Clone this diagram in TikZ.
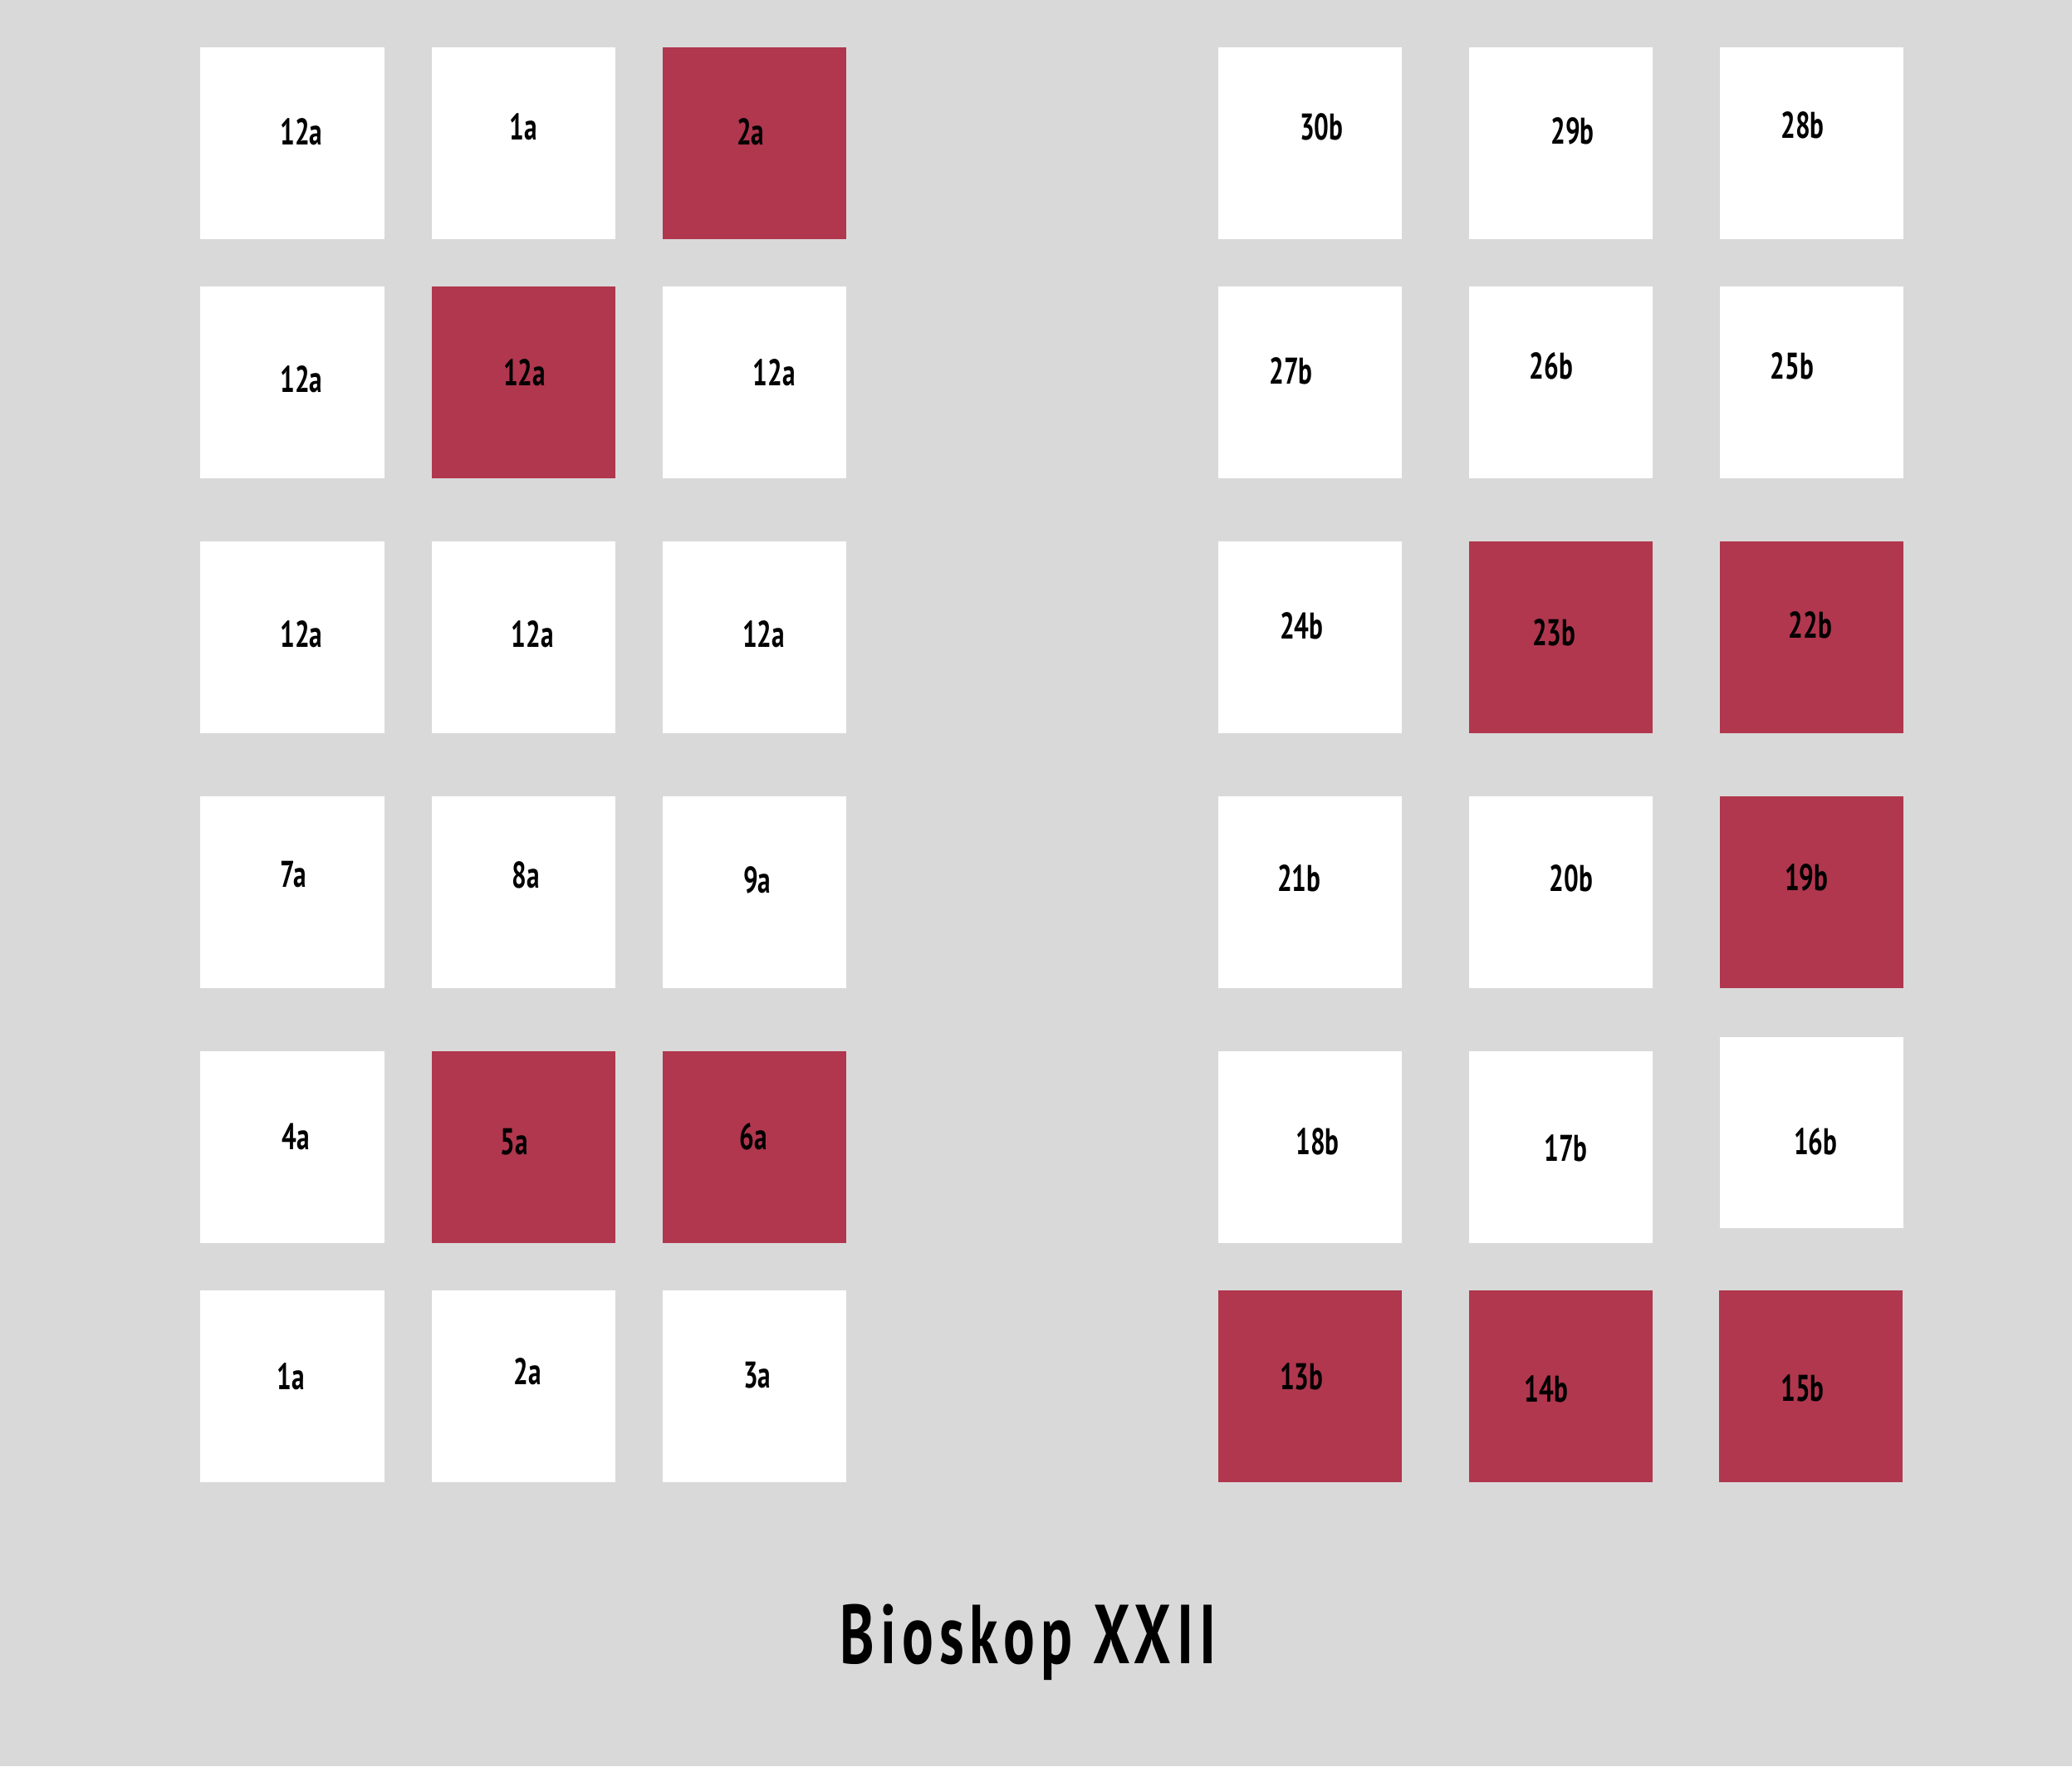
\documentclass[tikz,border=0pt]{standalone}
\usepackage{fontspec}
\newfontfamily\handfont[FakeStretch=0.7]{PT Sans}
\newfontfamily\titlefont[FakeStretch=0.7,LetterSpace=7]{PT Sans}
\definecolor{floorgray}{RGB}{217,217,217}
\definecolor{seatred}{RGB}{176,55,78}
\tikzset{
  seat/.style={fill=white, draw=none, anchor=north west, inner sep=0pt,
    minimum width=13.9mm, minimum height=14.5mm},
  taken/.style={seat, fill=seatred},
  lbl/.style={font=\handfont\bfseries\fontsize{8}{8}\selectfont, inner sep=0pt},
}
\begin{document}
\begin{tikzpicture}[x=0.1mm, y=-0.1mm]
    \useasboundingbox (0,0) rectangle (1568,1337);
    \fill[floorgray] (0,0) rectangle (1568,1337);
    % seats, left side
    \foreach \nm/\x/\y/\s in {a1/151/35/seat, a2/326/35/seat, a3/501/35/taken,
        a4/151/216/seat, a5/326/216/taken, a6/501/216/seat,
        a7/151/409/seat, a8/326/409/seat, a9/501/409/seat,
        a10/151/602/seat, a11/326/602/seat, a12/501/602/seat,
        a13/151/795/seat, a14/326/795/taken, a15/501/795/taken,
        a16/151/976/seat, a17/326/976/seat, a18/501/976/seat}
        \node[\s] (\nm) at (\x,\y) {};
    % seats, right side
    \foreach \nm/\x/\y/\s in {b1/921/35/seat, b2/1111/35/seat, b3/1301/35/seat,
        b4/921/216/seat, b5/1111/216/seat, b6/1301/216/seat,
        b7/921/409/seat, b8/1111/409/taken, b9/1301/409/taken,
        b10/921/602/seat, b11/1111/602/seat, b12/1301/602/taken,
        b13/921/795/seat, b14/1111/795/seat, b15/1301/784/seat,
        b16/921/976/taken, b17/1111/976/taken, b18/1300/976/taken}
        \node[\s] (\nm) at (\x,\y) {};
    % seat numbers
    \foreach \nm/\x/\y/\t in {a1/228/100/12a, a2/396/96/1a, a3/568/100/2a,
        a4/228/287/12a, a5/397/282/12a, a6/586/282/12a,
        a7/228/480/12a, a8/403/480/12a, a9/578/480/12a,
        a10/222/662/7a, a11/398/662/8a, a12/573/666/9a,
        a13/224/860/4a, a14/389/864/5a, a15/570/860/6a,
        a16/220/1042/1a, a17/399/1038/2a, a18/573/1041/3a}
        \node[lbl] (t\nm) at (\x,\y) {\t};
    \foreach \nm/\x/\y/\t in {b1/1000/96/30b, b2/1190/99/29b, b3/1364/95/28b,
        b4/977/281/27b, b5/1174/277/26b, b6/1356/277/25b,
        b7/985/474/24b, b8/1176/479/23b, b9/1370/473/22b,
        b10/983/665/21b, b11/1189/665/20b, b12/1367/664/19b,
        b13/997/864/18b, b14/1185/869/17b, b15/1374/864/16b,
        b16/985/1042/13b, b17/1170/1051/14b, b18/1364/1051/15b}
        \node[lbl] (t\nm) at (\x,\y) {\t};
    \node[font=\titlefont\bfseries\fontsize{18}{18}\selectfont] (title) at (778,1243) {Bioskop XXII};
\end{tikzpicture}
\end{document}
